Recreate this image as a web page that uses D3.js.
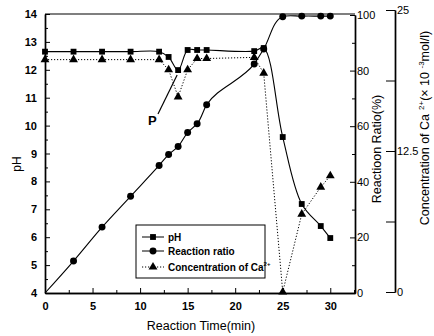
<!DOCTYPE html>
<html><head><meta charset="utf-8">
<script src="https://cdn.jsdelivr.net/npm/d3@7"></script>
<style>body{margin:0;background:#fff}svg{display:block}text{font-family:"Liberation Sans",Arial,sans-serif;fill:#000}</style>
</head><body><svg id="c" width="434" height="336"></svg>
<script>
const timeX = [0,3,6,9,12,13,14,15,16,17,22,23,25,27,29,30];
const phValues = [12.65,12.65,12.65,12.65,12.65,12.46,11.99,12.71,12.71,12.71,12.67,12.78,9.59,7.19,6.40,5.97];
const ratioValues = [0,11.5,23.7,34.8,45.9,49.8,52.7,57.7,60.9,67.7,82.4,87.8,99.4,99.6,99.6,99.6];
const caValues = [20.6,20.6,20.6,20.6,20.6,19.7,17.3,19.7,20.7,20.7,20.8,19.4,0,6.9,9.3,10.3];
const xTicks = [0,5,10,15,20,25,30];
const phTicks = [4,5,6,7,8,9,10,11,12,13,14];
const ratioTicks = [0,20,40,60,80,100];
const caTicks = [0,12.5,25];
const caMinor = [6.25,18.75];
const legendLabels = ["pH","Reaction ratio","Concentration of Ca"];

const svg = d3.select("#c");
const x = d3.scaleLinear().domain([0,32.6]).range([45,355]);
const yPh = d3.scaleLinear().domain([4,14]).range([293,14]);
const yR = d3.scaleLinear().domain([0,100]).range([293,15]);
const yCa = d3.scaleLinear().domain([0,25]).range([292,10]);

// frame
svg.append("line").attr("x1",45).attr("x2",355).attr("y1",14).attr("y2",14).attr("stroke","#000").attr("stroke-width",1.2);

// bottom axis
const gx = svg.append("g").attr("transform","translate(0,293)")
  .call(d3.axisBottom(x).tickValues(xTicks).tickSizeInner(-5).tickSizeOuter(0).tickPadding(9).tickFormat(d3.format("d")));
svg.append("g").attr("transform","translate(0,293)")
  .call(d3.axisBottom(x).tickValues(d3.range(2.5,33,5)).tickSizeInner(-3).tickSizeOuter(0).tickFormat(""));
gx.selectAll("text").attr("font-size",11).attr("font-weight","bold");

// left axis
const gy = svg.append("g").attr("transform","translate(45,0)")
  .call(d3.axisLeft(yPh).tickValues(phTicks).tickSizeInner(-5).tickSizeOuter(0).tickPadding(8).tickFormat(d3.format("d")));
svg.append("g").attr("transform","translate(45,0)")
  .call(d3.axisLeft(yPh).tickValues(d3.range(4.5,14,1)).tickSizeInner(-3).tickSizeOuter(0).tickFormat(""));
gy.selectAll("text").attr("font-size",11).attr("font-weight","bold");

// right ratio axis
const gr = svg.append("g").attr("transform","translate(355,0)")
  .call(d3.axisRight(yR).tickValues(ratioTicks).tickSizeInner(-5).tickSizeOuter(0).tickPadding(2));
svg.append("g").attr("transform","translate(355,0)")
  .call(d3.axisRight(yR).tickValues(d3.range(10,100,20)).tickSizeInner(-3).tickSizeOuter(0).tickFormat(""));
gr.selectAll("text").attr("font-size",11);

// Ca axis
const gc = svg.append("g").attr("transform","translate(395,0)")
  .call(d3.axisRight(yCa).tickValues(caTicks).tickSizeInner(-9).tickSizeOuter(0).tickPadding(2).tickFormat(d=>d));
svg.append("g").attr("transform","translate(395,0)")
  .call(d3.axisRight(yCa).tickValues(caMinor).tickSizeInner(-9).tickSizeOuter(0).tickFormat(""));
gc.selectAll("text").attr("font-size",11);
svg.selectAll(".domain").attr("stroke-width",1.4);

// titles
svg.append("text").attr("transform","translate(21,164) rotate(-90)").attr("text-anchor","middle").attr("font-size",12).text("pH");
svg.append("text").attr("x",201).attr("y",330).attr("text-anchor","middle").attr("font-size",12.5).text("Reaction Time(min)");
svg.append("text").attr("transform","translate(381,149) rotate(-90)").attr("text-anchor","middle").attr("font-size",12.5).text("Reactioon Ratio(%)");
const ct = svg.append("text").attr("transform","translate(429,128) rotate(-90)").attr("text-anchor","middle").attr("font-size",12.5);
ct.append("tspan").text("Concentration of Ca");
ct.append("tspan").attr("dx",4).attr("dy",-5).attr("font-size",8).text("2+");
ct.append("tspan").attr("dy",5).text("(× 10 ");
ct.append("tspan").attr("dy",-5).attr("font-size",8).text("-3");
ct.append("tspan").attr("dy",5).text("mol/l)");

const pts = timeX.map((t,i)=>({t,ph:phValues[i],r:ratioValues[i],ca:caValues[i]}));

// lines
svg.append("path").datum(pts).attr("fill","none").attr("stroke","#000").attr("stroke-width",1.1)
  .attr("d",d3.line().x(d=>x(d.t)).y(d=>yPh(d.ph)).curve(d3.curveCatmullRom));
svg.append("path").datum(pts).attr("fill","none").attr("stroke","#000").attr("stroke-width",1.1)
  .attr("d",d3.line().x(d=>x(d.t)).y(d=>yR(d.r)).curve(d3.curveCatmullRom.alpha(1)));
svg.append("path").datum(pts).attr("fill","none").attr("stroke","#000").attr("stroke-width",1).attr("stroke-dasharray","1.2,1.8")
  .attr("d",d3.line().x(d=>x(d.t)).y(d=>yCa(d.ca)));

// markers
const sq = d3.symbol().type(d3.symbolSquare).size(34);
const ci = d3.symbol().type(d3.symbolCircle).size(38);
const tr = d3.symbol().type(d3.symbolTriangle).size(34);
svg.append("g").selectAll("path").data(pts).join("path").attr("d",sq).attr("transform",d=>`translate(${x(d.t)},${yPh(d.ph)})`);
svg.append("g").selectAll("path").data(pts.filter(d=>d.t>0)).join("path").attr("d",ci).attr("transform",d=>`translate(${x(d.t)},${yR(d.r)})`);
svg.append("g").selectAll("path").data(pts).join("path").attr("d",tr).attr("transform",d=>`translate(${x(d.t)},${yCa(d.ca)})`);

// P annotation
const p14 = pts.find(d=>d.t===14);
svg.append("line").attr("x1",158).attr("y1",114).attr("x2",x(p14.t)-1).attr("y2",yPh(p14.ph)+5).attr("stroke","#000").attr("stroke-width",1.2);
svg.append("text").attr("x",148).attr("y",125).attr("font-size",13).attr("font-weight","bold").text("P");

// legend
const lg = svg.append("g");
lg.append("rect").attr("x",136).attr("y",225).attr("width",129).attr("height",53).attr("fill","#fff").attr("stroke","#000").attr("stroke-width",1);
const ly = [237,251,267];
const syms = [sq,ci,tr];
legendLabels.forEach((lab,i)=>{
  lg.append("line").attr("x1",142).attr("x2",164).attr("y1",ly[i]).attr("y2",ly[i]).attr("stroke","#000").attr("stroke-width",1)
    .attr("stroke-dasharray",i===2?"1.2,1.8":null);
  lg.append("path").attr("d",syms[i]).attr("transform",`translate(153,${ly[i]})`);
  const t = lg.append("text").attr("x",168).attr("y",ly[i]+3.5).attr("font-size",10).attr("font-weight","bold").text(lab);
  if(i===2) t.append("tspan").attr("dy",-5).attr("font-size",6).text("2+");
});
</script></body></html>
